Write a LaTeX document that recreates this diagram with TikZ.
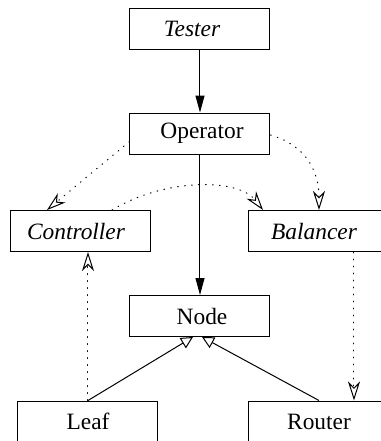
\documentclass[tikz,border=0pt]{standalone}
\usepackage{fontspec}
\setmainfont{Liberation Serif}
\usetikzlibrary{arrows.meta}
\begin{document}
\begin{tikzpicture}[x=0.5pt,y=-0.5pt,
  box/.style={draw,line width=0.5pt,minimum width=70pt,minimum height=20.5pt,inner sep=0pt,font=\fontsize{11.7}{14}\selectfont},
  assoc/.style={line width=0.5pt,-{Triangle[length=8.5pt,width=4.5pt]}},
  inherit/.style={line width=0.5pt,-{Triangle[open,length=6pt,width=6pt]}},
  dep/.style={line width=0.5pt,dash pattern=on 0.4pt off 3.1pt,line cap=round,-{Stealth[open,length=9.5pt,width=6pt,inset=3pt]}}]
\useasboundingbox (0,0) rectangle (381,441);
\clip (0,0) rectangle (381,441);
\node[box] (tester) at (200,28.5) {\itshape Tester\rule{8pt}{0pt}};
\node[box] (op) at (200,133.5) {\rule{2pt}{0pt}Operator};
\node[box] (ctrl) at (81,231) {\itshape Controller\rule{5pt}{0pt}};
\node[box] (bal) at (319,231) {\itshape Balancer\rule{5pt}{0pt}};
\node[box] (node) at (200,316) {\rule{2pt}{0pt}Node};
\node[box] (leaf) at (88,421.5) {Leaf};
\node[box] (router) at (319,421.5) {Router};
\draw[assoc] (tester) -- (op);
\draw[assoc] (op) -- (node);
\draw[dep] ([yshift=-4pt]op.west) -- ([xshift=-17pt]ctrl.north);
\draw[dep] ([yshift=-0.75pt]op.east) .. controls (305,145) and (319,170) .. (bal.north);
\draw[dep] ([xshift=15.5pt]ctrl.north) .. controls (165,178) and (238,178) .. ([xshift=-28pt]bal.north);
\draw[dep] (leaf.north) -- ([xshift=3.5pt]ctrl.south);
\draw[dep] ([xshift=17.5pt]bal.south) -- ([xshift=17.5pt]router.north);
\draw[inherit] (leaf.north) -- ([xshift=-3.5pt]node.south);
\draw[inherit] (router.north) -- ([xshift=1pt]node.south);
\end{tikzpicture}
\end{document}
